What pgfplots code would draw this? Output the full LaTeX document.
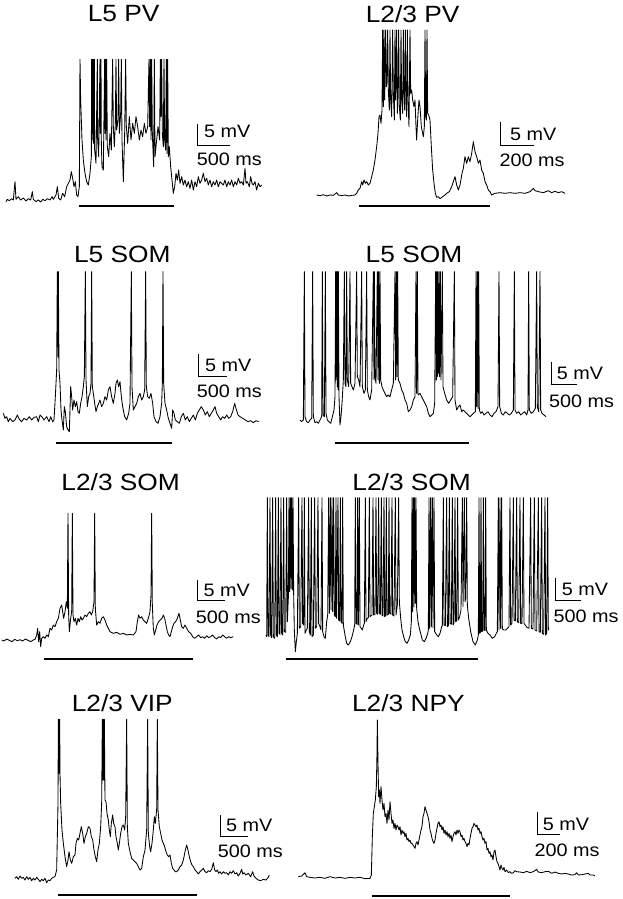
\documentclass[border=0pt]{standalone}
\usepackage{fontspec}
\setmainfont{Liberation Sans}
\usepackage{graphicx}
\usepackage{pgfplots}
\pgfplotsset{compat=1.18}

% traces in units of 1/3 px, one box per panel
\pgfplotsset{
  panel/.style={scale only axis, anchor=north west, hide axis, clip=false,
    xmin=0, ymin=0, y dir=reverse, enlargelimits=false},
  trace/.style={black, line width=0.85pt, line join=round, mark=none},
  stim/.style={black, line width=2.3pt, mark=none},
  sbar/.style={black, line width=0.9pt, mark=none},
}
\newcommand{\ttl}[1]{\scalebox{1.12}[1]{\fontsize{23.5}{26}\selectfont #1}}
\newcommand{\lab}[1]{\scalebox{1.1}[1]{\fontsize{18}{21}\selectfont #1}}

\begin{document}
\begin{tikzpicture}
\path[use as bounding box] (0pt,0pt) rectangle (622pt,-899pt);

% ---------------- L5 PV
\begin{axis}[panel, at={(0pt,0pt)}, width=300pt, height=220pt, xmax=900, ymax=660]
\addplot[trace] coordinates {
(18,605)(22,598)(28,602)(35,596)(40,600)(45,545)(48,598)(55,590)(62,600)(70,594)(78,603)(85,596)(92,600)(97,575)(100,598)(108,605)(115,600)(122,606)(128,598)(135,602)(142,596)(150,600)(156,590)(160,598)(168,585)(172,560)(176,595)(182,600)(188,580)(194,590)(200,560)(205,550)(210,540)(214,515)(218,535)(222,560)(226,545)(230,585)(234,590)(238,560)
(240,178)(242,300)(246,420)(250,480)(255,520)(260,545)(265,555)(270,520)(274,470)
(275,178)(276,420)(277,178)(278,400)(279,178)(280,430)(281,178)(282,410)(283,178)(284,450)(288,490)(292,178)(293,420)(296,470)(300,178)(301,400)(303,178)(304,430)(306,500)(310,510)(314,178)(315,400)(317,178)(318,420)(320,178)(322,440)(326,470)(330,400)(334,450)(338,178)(340,380)(343,440)(346,370)(348,178)(350,390)(354,360)(356,178)(358,400)(362,340)(364,178)(366,420)(370,545)(374,400)(377,178)(379,380)(383,430)(388,350)(393,420)(398,370)(403,400)(408,350)(413,380)(418,420)(423,390)(428,410)(433,370)(438,400)(443,380)(447,178)(449,380)(451,178)(453,420)(455,178)(457,400)(461,500)(463,178)(465,470)(469,430)(474,380)(479,420)(481,178)(483,350)(485,178)(487,400)(490,440)(492,178)(494,420)(497,450)(499,178)(501,460)(503,178)(505,470)(508,440)(512,500)(516,540)(520,580)(524,560)(528,520)(532,540)(536,510)(540,550)(545,530)(550,555)(555,540)(560,560)(565,545)(570,565)(575,540)(580,570)(585,545)(590,560)(595,530)(600,550)(605,540)(610,520)(615,545)(620,535)(625,555)(630,540)(635,560)(640,545)(645,555)(650,540)(655,560)(660,545)(665,550)(670,555)(675,540)(680,560)(685,545)(690,555)(695,540)(700,560)(705,545)(710,555)(715,535)(720,550)(725,545)(730,555)(735,505)(738,550)(742,545)(748,560)(752,530)(756,550)(760,555)(765,545)(770,570)(775,550)(780,560)(785,555)
};
\addplot[stim] coordinates {(237,618)(523,618)};
\addplot[sbar] coordinates {(593,372)(593,435)(690,435)};
\node[anchor=west, inner sep=0] at (axis cs:612,395) {\lab{5 mV}};
\node[anchor=west, inner sep=0] at (axis cs:590,478) {\lab{500 ms}};
\node[inner sep=0] at (axis cs:371,41) {\ttl{L5 PV}};
\end{axis}

% ---------------- L2/3 PV
\begin{axis}[panel, at={(300pt,0pt)}, width=322pt, height=220pt, xmax=966, ymax=660]
\addplot[trace] coordinates {
(50,585)(60,587)(70,584)(80,588)(90,585)(100,586)(110,578)(115,585)(125,587)(135,585)(145,588)(155,586)(165,585)(170,580)(175,570)(180,565)(185,545)(188,555)(192,540)(196,550)(200,545)(205,555)(210,550)(215,530)(220,510)(225,480)(230,440)(234,400)(237,350)(240,345)(243,370)(246,330)(248,90)(250,320)(252,90)(254,300)(257,90)(259,260)(261,245)(263,90)(265,270)(268,330)(270,90)(272,300)(275,350)(278,90)(280,280)(283,360)(285,90)(287,300)(290,90)(292,340)(294,280)(296,90)(298,320)(301,360)(303,90)(305,300)(308,340)(310,90)(312,280)(314,330)(316,90)(318,300)(320,350)(322,90)(324,300)(327,380)(330,90)(332,280)(335,270)(338,300)(342,320)(345,300)(348,380)(350,420)(353,360)(357,300)(360,320)(364,380)(368,400)(370,410)(373,380)(375,90)(377,350)(379,360)(381,90)(383,340)(386,345)(390,360)(394,440)(398,510)(402,550)(406,580)(410,592)(415,590)(420,596)(428,590)(435,585)(440,580)(448,575)(455,560)(460,545)(465,530)(470,555)(475,570)(480,555)(486,520)(490,505)(495,470)(500,490)(505,470)(510,485)(515,460)(520,425)(525,455)(530,470)(535,490)(540,480)(545,510)(550,520)(555,545)(560,555)(565,570)(570,575)(575,585)(585,580)(600,578)(615,580)(630,578)(645,580)(660,578)(675,580)(690,575)(700,565)(705,572)(715,575)(730,578)(745,572)(755,578)(765,574)(775,578)(785,575)(795,580)
};
\addplot[stim] coordinates {(178,618)(570,618)};
\addplot[sbar] coordinates {(602,367)(602,435)(703,435)};
\node[anchor=west, inner sep=0] at (axis cs:630,402) {\lab{5 mV}};
\node[anchor=west, inner sep=0] at (axis cs:598,480) {\lab{200 ms}};
\node[inner sep=0] at (axis cs:338,41) {\ttl{L2/3 PV}};
\end{axis}

% ---------------- L5 SOM (left)
\begin{axis}[panel, at={(0pt,-230pt)}, width=300pt, height=220pt, xmax=900, ymax=660]
\addplot[trace] coordinates {
(10,550)(15,565)(20,560)(25,575)(30,565)(38,575)(45,570)(52,555)(58,568)(65,575)(72,565)(80,570)(88,560)(95,570)(102,562)(110,560)(115,575)(120,555)(127,562)(132,570)(140,560)(147,575)(152,560)(158,575)(162,570)(166,500)(170,420)(172,125)(174,380)(175,125)(177,420)(180,460)(183,540)(186,570)(190,600)(193,530)(196,545)(200,590)(204,600)(208,605)(212,470)(215,500)(218,540)(222,510)(226,530)(230,515)(234,545)(238,550)(242,520)(246,500)(250,470)(253,440)(256,125)(258,450)(262,530)(266,500)(270,490)(273,460)(275,125)(277,470)(280,490)(284,520)(288,545)(292,530)(296,520)(300,510)(305,530)(310,520)(315,500)(320,510)(325,480)(330,470)(335,500)(340,520)(345,490)(348,460)(352,450)(356,470)(360,455)(364,500)(368,530)(374,560)(380,570)(386,550)(390,520)(394,125)(396,470)(400,540)(405,530)(410,520)(415,500)(420,490)(425,510)(430,500)(434,480)(437,125)(439,470)(443,500)(448,505)(453,490)(458,520)(462,560)(468,575)(474,580)(480,560)(485,520)(487,460)(489,125)(491,460)(495,520)(500,540)(505,565)(510,580)(515,595)(518,540)(522,550)(526,570)(532,575)(538,580)(544,560)(550,550)(556,570)(562,560)(568,575)(574,565)(580,555)(586,570)(592,550)(598,540)(604,530)(610,540)(616,555)(622,545)(628,560)(634,550)(640,540)(645,530)(650,550)(656,560)(662,570)(668,560)(674,565)(680,555)(686,565)(692,560)(698,545)(704,520)(708,535)(714,555)(720,560)(728,565)(736,570)(744,575)(752,572)(760,578)(768,572)(776,575)
};
\addplot[stim] coordinates {(168,640)(515,640)};
\addplot[sbar] coordinates {(595,372)(595,440)(680,440)};
\node[anchor=west, inner sep=0] at (axis cs:615,407) {\lab{5 mV}};
\node[anchor=west, inner sep=0] at (axis cs:590,485) {\lab{500 ms}};
\node[inner sep=0] at (axis cs:367,72) {\ttl{L5 SOM}};
\end{axis}

% ---------------- L5 SOM (right)
\begin{axis}[panel, at={(290pt,-230pt)}, width=332pt, height=220pt, xmax=996, ymax=660]
\addplot[trace] coordinates {
(30,570)(35,575)(40,570)(43,125)(45,560)(50,575)(55,578)(60,570)(65,565)(68,125)(70,560)(75,578)(80,575)(85,580)(90,570)(95,560)(97,125)(99,555)(103,560)(106,125)(108,550)(112,570)(117,575)(122,580)(127,560)(132,540)(135,500)(137,125)(138,450)(139,125)(140,440)(141,125)(142,470)(143,125)(144,480)(145,125)(147,500)(150,585)(153,560)(156,520)(160,450)(163,125)(165,460)(168,470)(170,125)(172,450)(176,470)(180,125)(182,460)(186,470)(190,480)(195,460)(200,125)(202,440)(206,450)(210,470)(215,125)(217,470)(222,490)(226,480)(230,125)(232,480)(236,500)(240,510)(245,480)(250,125)(252,450)(253,125)(255,440)(258,460)(262,125)(264,450)(266,125)(268,460)(270,125)(272,450)(276,470)(280,480)(285,490)(290,500)(295,495)(300,500)(305,480)(310,460)(315,125)(317,450)(319,125)(321,440)(323,125)(325,450)(330,460)(335,480)(340,490)(345,510)(350,520)(355,545)(360,540)(365,530)(370,510)(375,500)(378,125)(380,490)(382,125)(384,495)(390,490)(395,500)(400,510)(405,520)(410,530)(415,550)(420,560)(425,555)(430,550)(434,520)(437,125)(439,450)(440,125)(442,440)(443,125)(445,430)(447,125)(449,440)(451,125)(453,450)(457,125)(459,470)(464,490)(470,510)(476,520)(482,510)(488,500)(493,125)(495,510)(500,540)(505,530)(510,525)(515,545)(520,540)(525,545)(530,550)(535,555)(540,560)(545,555)(550,550)(556,545)(558,125)(560,530)(562,125)(564,535)(566,125)(568,540)(572,550)(577,545)(582,555)(588,550)(594,545)(600,555)(606,560)(612,550)(618,545)(624,530)(627,125)(629,530)(634,550)(640,555)(646,545)(652,550)(658,555)(664,550)(670,540)(673,125)(675,540)(680,550)(686,545)(692,555)(698,550)(704,545)(710,555)(714,540)(716,125)(718,540)(724,550)(730,545)(736,535)(740,125)(742,530)(746,545)(750,125)(752,540)(756,550)(762,555)(768,560)
};
\addplot[stim] coordinates {(135,640)(537,640)};
\addplot[sbar] coordinates {(783,395)(783,463)(862,463)};
\node[anchor=west, inner sep=0] at (axis cs:800,430) {\lab{5 mV}};
\node[anchor=west, inner sep=0] at (axis cs:777,515) {\lab{500 ms}};
\node[inner sep=0] at (axis cs:372,72) {\ttl{L5 SOM}};
\end{axis}

% ---------------- L2/3 SOM (left)
\begin{axis}[panel, at={(0pt,-455pt)}, width=270pt, height=215pt, xmax=810, ymax=645]
\addplot[trace] coordinates {
(5,555)(12,558)(20,552)(28,556)(36,560)(44,553)(52,557)(60,554)(68,558)(76,552)(84,556)(92,560)(100,555)(106,552)(110,540)(113,520)(116,560)(119,530)(122,575)(125,550)(130,545)(135,550)(140,540)(145,545)(150,520)(155,525)(160,510)(165,515)(170,500)(175,490)(180,460)(185,450)(188,470)(191,490)(195,470)(199,440)(202,460)(204,175)(206,480)(208,530)(212,490)(215,470)(217,175)(219,480)(222,500)(226,490)(230,510)(234,490)(238,500)(242,485)(246,495)(250,490)(255,480)(260,485)(265,475)(270,470)(274,480)(278,470)(282,440)(284,175)(286,460)(290,510)(295,500)(300,505)(305,490)(310,485)(315,495)(320,510)(325,520)(330,530)(340,535)(350,532)(360,538)(370,535)(380,540)(390,538)(400,540)(408,530)(412,500)(416,480)(420,490)(425,485)(430,495)(435,500)(440,505)(445,490)(450,470)(453,420)(455,175)(457,450)(460,520)(463,540)(467,525)(471,510)(476,500)(481,495)(486,490)(490,480)(494,490)(498,510)(502,530)(506,540)(510,545)(514,530)(518,515)(522,505)(527,500)(532,490)(537,475)(541,495)(545,515)(550,520)(555,510)(560,520)(566,530)(572,535)(578,545)(584,550)(590,545)(596,540)(602,548)(608,545)(614,550)(620,542)(626,548)(632,545)(638,540)(644,548)(650,552)(656,545)(662,548)(668,540)(674,545)(680,550)(686,545)(692,548)(700,545)
};
\addplot[stim] coordinates {(133,612)(580,612)};
\addplot[sbar] coordinates {(593,375)(593,437)(675,437)};
\node[anchor=west, inner sep=0] at (axis cs:610,407) {\lab{5 mV}};
\node[anchor=west, inner sep=0] at (axis cs:587,487) {\lab{500 ms}};
\node[inner sep=0] at (axis cs:362,80) {\ttl{L2/3 SOM}};
\end{axis}

% ---------------- L2/3 SOM (right)
\begin{axis}[panel, at={(255pt,-455pt)}, width=367pt, height=215pt, xmax=1101, ymax=645]
\addplot[trace] coordinates {
(33,540)(35,545)(37,128)(39,540)(42,545)(45,128)(47,540)(50,548)(53,128)(55,545)(59,550)(62,128)(64,540)(67,545)(70,128)(72,535)(75,538)(78,128)(80,535)(83,540)(86,128)(88,530)(92,532)(95,128)(97,500)(100,430)(102,128)(104,410)(106,128)(108,400)(110,128)(112,405)(114,128)(116,420)(118,525)(121,590)(124,560)(127,535)(131,128)(133,520)(137,515)(141,128)(143,505)(146,510)(148,128)(150,535)(154,525)(157,520)(161,128)(163,530)(166,540)(169,128)(171,545)(175,540)(179,128)(181,520)(185,515)(189,128)(191,505)(195,515)(198,525)(201,128)(203,530)(207,545)(211,550)(215,500)(218,480)(221,128)(223,475)(226,128)(228,465)(231,128)(233,470)(236,128)(238,480)(241,485)(243,128)(245,490)(249,128)(251,495)(254,498)(256,128)(258,500)(261,505)(263,128)(265,510)(270,540)(275,565)(280,570)(286,560)(291,545)(296,525)(299,510)(301,128)(303,505)(306,508)(308,128)(310,510)(313,128)(315,515)(319,520)(322,525)(326,510)(328,505)(331,128)(333,500)(337,490)(340,488)(343,128)(345,485)(348,482)(351,480)(354,128)(356,480)(360,478)(363,128)(365,475)(368,478)(371,128)(373,475)(376,478)(379,128)(381,480)(384,483)(387,128)(389,485)(392,482)(394,128)(396,480)(400,478)(402,128)(404,475)(408,478)(411,128)(413,480)(417,483)(421,128)(423,480)(427,450)(431,128)(433,440)(437,490)(441,525)(446,545)(451,560)(456,565)(461,555)(466,540)(469,500)(471,128)(473,470)(475,128)(477,455)(479,128)(481,445)(483,128)(485,460)(489,500)(493,520)(497,535)(502,555)(508,560)(514,548)(518,535)(520,525)(522,128)(524,520)(527,128)(529,515)(532,128)(534,518)(537,128)(539,530)(544,538)(550,545)(555,535)(560,515)(562,512)(565,128)(567,510)(571,512)(575,128)(577,515)(580,512)(583,128)(585,505)(589,508)(592,128)(594,510)(597,505)(600,128)(602,500)(605,498)(608,128)(610,495)(614,485)(618,465)(622,128)(624,455)(628,128)(630,440)(632,430)(635,128)(637,450)(641,490)(647,530)(654,560)(661,570)(667,555)(670,540)(672,128)(674,535)(676,532)(678,128)(680,530)(683,528)(685,128)(687,525)(690,527)(692,128)(694,525)(699,535)(705,540)(712,550)(719,545)(724,535)(727,530)(730,128)(732,525)(735,128)(737,520)(740,128)(742,522)(747,525)(752,525)(757,520)(762,515)(765,128)(767,510)(771,505)(775,128)(777,495)(781,498)(785,128)(787,500)(791,503)(795,128)(797,505)(801,505)(805,128)(807,505)(812,512)(817,518)(822,520)(827,128)(829,520)(834,522)(838,128)(840,525)(845,528)(850,128)(852,530)(856,532)(860,128)(862,535)(866,538)(870,128)(872,540)(875,535)(878,128)(880,525)(882,520)
};
\addplot[stim] coordinates {(93,612)(668,612)};
\addplot[sbar] coordinates {(902,370)(902,437)(978,437)};
\node[anchor=west, inner sep=0] at (axis cs:920,404) {\lab{5 mV}};
\node[anchor=west, inner sep=0] at (axis cs:895,485) {\lab{500 ms}};
\node[inner sep=0] at (axis cs:470,80) {\ttl{L2/3 SOM}};
\end{axis}

% ---------------- L2/3 VIP
\begin{axis}[panel, at={(0pt,-670pt)}, width=300pt, height=229pt, xmax=900, ymax=687]
\addplot[trace] coordinates {
(45,625)(50,620)(55,628)(60,618)(65,625)(70,622)(75,630)(80,620)(85,628)(90,622)(95,632)(100,625)(105,630)(110,622)(115,628)(120,635)(125,628)(130,632)(135,625)(140,638)(145,630)(150,632)(155,625)(160,622)(165,620)(170,600)(174,400)(175,148)(176,310)(177,148)(178,310)(179,148)(180,310)(182,400)(186,480)(190,520)(195,560)(200,590)(204,570)(207,545)(211,570)(215,580)(220,560)(225,555)(228,520)(232,505)(236,510)(240,490)(244,470)(248,490)(252,520)(256,500)(260,490)(265,470)(270,475)(274,500)(278,510)(282,540)(286,560)(290,575)(294,540)(298,520)(302,470)(305,400)(307,148)(308,330)(309,148)(310,330)(311,148)(312,330)(313,148)(315,390)(318,395)(321,430)(325,450)(328,480)(331,500)(334,460)(338,435)(341,460)(345,470)(348,500)(352,520)(355,540)(358,520)(362,490)(366,470)(370,465)(374,480)(377,440)(380,148)(382,470)(385,520)(390,545)(395,565)(400,570)(405,575)(410,580)(415,590)(420,600)(425,595)(430,560)(435,540)(440,480)(443,148)(445,490)(449,530)(452,545)(456,520)(460,480)(463,440)(466,460)(470,420)(472,148)(474,420)(478,470)(482,490)(486,510)(490,520)(494,530)(498,545)(502,555)(506,560)(510,555)(514,580)(518,595)(522,600)(526,605)(530,605)(535,600)(540,590)(545,585)(550,570)(555,545)(560,525)(564,540)(568,560)(572,575)(576,585)(580,590)(585,600)(590,605)(595,612)(600,605)(605,600)(610,595)(615,605)(620,608)(625,602)(630,605)(635,598)(640,578)(644,600)(648,605)(652,600)(656,610)(660,605)(665,612)(670,605)(675,610)(680,608)(685,615)(690,605)(695,610)(700,602)(705,612)(710,608)(715,618)(720,610)(725,598)(728,612)(732,608)(738,615)(745,610)(752,620)(758,605)(762,618)(768,625)(775,630)(782,632)(790,628)(798,630)(805,622)(808,615)
};
\addplot[stim] coordinates {(175,675)(590,675)};
\addplot[sbar] coordinates {(662,435)(662,498)(745,498)};
\node[anchor=west, inner sep=0] at (axis cs:678,467) {\lab{5 mV}};
\node[anchor=west, inner sep=0] at (axis cs:653,545) {\lab{500 ms}};
\node[inner sep=0] at (axis cs:367,100) {\ttl{L2/3 VIP}};
\end{axis}

% ---------------- L2/3 NPY
\begin{axis}[panel, at={(290pt,-670pt)}, width=332pt, height=229pt, xmax=996, ymax=687]
\addplot[trace] coordinates {
(25,620)(35,618)(45,608)(50,620)(60,622)(75,624)(90,622)(105,625)(120,620)(135,624)(150,622)(165,625)(180,622)(195,624)(210,622)(225,626)(240,625)(244,615)(247,500)(250,430)(253,410)(256,390)(259,350)(261,250)(262,150)(264,280)(266,380)(268,360)(270,400)(273,350)(276,390)(279,420)(282,400)(285,440)(288,430)(291,460)(294,420)(297,450)(300,395)(303,430)(306,460)(309,450)(312,475)(315,460)(318,480)(321,465)(324,470)(327,480)(330,470)(333,495)(336,480)(339,490)(342,485)(345,500)(348,490)(351,510)(354,505)(357,515)(360,510)(363,520)(366,520)(369,525)(372,530)(375,535)(378,520)(381,515)(384,525)(387,510)(390,495)(393,480)(396,470)(399,440)(402,430)(405,410)(408,420)(411,430)(414,440)(417,455)(420,480)(423,490)(426,505)(429,515)(432,520)(435,510)(438,490)(441,475)(444,460)(447,455)(450,470)(453,465)(456,480)(459,470)(462,490)(465,480)(468,495)(471,485)(474,500)(477,490)(480,505)(483,495)(486,515)(489,500)(492,490)(495,485)(498,495)(501,480)(504,490)(507,480)(510,485)(513,500)(516,495)(519,510)(522,505)(525,515)(528,520)(531,530)(534,520)(537,525)(540,505)(543,490)(546,475)(549,470)(552,460)(555,465)(558,470)(561,465)(564,480)(567,475)(570,490)(573,485)(576,500)(579,510)(582,505)(585,520)(588,515)(591,540)(594,535)(597,550)(600,545)(603,560)(606,555)(609,570)(612,545)(615,540)(618,560)(621,575)(624,580)(627,590)(630,600)(633,585)(636,595)(639,600)(642,592)(645,605)(650,600)(655,608)(660,605)(665,610)(670,608)(675,602)(680,605)(690,606)(700,608)(710,604)(720,608)(730,605)(740,598)(745,606)(755,608)(765,605)(775,604)(785,610)(795,606)(805,610)(815,612)(825,610)(835,612)(845,615)(855,614)(860,608)(865,615)(875,614)(885,612)(895,610)(900,615)(910,615)(915,618)
};
\addplot[stim] coordinates {(245,678)(660,678)};
\addplot[sbar] coordinates {(742,425)(742,493)(810,493)};
\node[anchor=west, inner sep=0] at (axis cs:758,462) {\lab{5 mV}};
\node[anchor=west, inner sep=0] at (axis cs:733,540) {\lab{200 ms}};
\node[inner sep=0] at (axis cs:355,100) {\ttl{L2/3 NPY}};
\end{axis}
\end{tikzpicture}
\end{document}
